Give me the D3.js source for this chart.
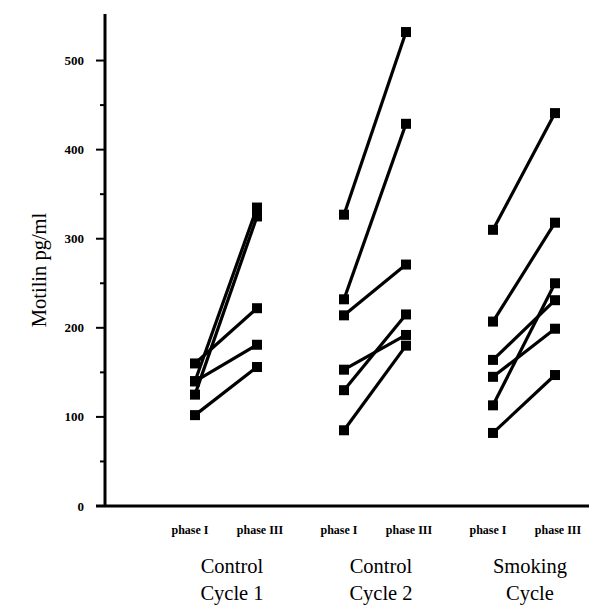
<!DOCTYPE html>
<html>
<head>
<meta charset="utf-8">
<script src="https://cdn.jsdelivr.net/npm/d3@7"></script>
<style>
  body { margin: 0; background: #fff; }
  svg { display: block; }
  text { font-family: "Liberation Serif", "DejaVu Serif", serif; fill: #000; }
</style>
</head>
<body>
<div id="chart"></div>
<script>
/* ---------------- data ---------------- */

const groups = ["Control Cycle 1", "Control Cycle 2", "Smoking Cycle"];
const groupLines = [["Control", "Cycle 1"], ["Control", "Cycle 2"], ["Smoking", "Cycle"]];
const phases = ["phase I", "phase III"];

// one entry per subject: [phase I, phase III]
const controlCycle1 = [[140, 335], [125, 325], [160, 222], [140, 181], [102, 156]];
const controlCycle2 = [[327, 532], [232, 429], [214, 271], [153, 192], [130, 215], [85, 180]];
const smokingCycle = [[310, 441], [207, 318], [164, 231], [145, 199], [113, 250], [82, 147]];

const yTicks = [0, 100, 200, 300, 400, 500];
const yMinorTicks = [50, 150, 250, 350, 450];

/* ---------------- layout ---------------- */

const width = 589, height = 607;
const axisX = 105, axisY = 506;

const svg = d3.select("#chart").append("svg")
    .attr("width", width)
    .attr("height", height);

const yScale = d3.scaleLinear()
    .domain([0, 550])
    .range([axisY, 16]);

const groupScale = d3.scaleBand()
    .domain(groups)
    .range([151.5, 598.5]);

const phaseScale = d3.scalePoint()
    .domain(phases)
    .range([-31, 31]);

const groupMid = g => groupScale(g) + groupScale.bandwidth() / 2;
const xPos = (g, p) => groupMid(g) + phaseScale(p);

/* ---------------- axes ---------------- */

svg.append("line")
    .attr("x1", axisX).attr("x2", axisX)
    .attr("y1", 14).attr("y2", axisY + 1)
    .attr("stroke", "#000").attr("stroke-width", 3);

svg.append("line")
    .attr("x1", 96).attr("x2", width)
    .attr("y1", axisY).attr("y2", axisY)
    .attr("stroke", "#000").attr("stroke-width", 3);

svg.selectAll(".major")
    .data(yTicks)
    .enter().append("line")
    .attr("x1", 96).attr("x2", axisX)
    .attr("y1", d => yScale(d)).attr("y2", d => yScale(d))
    .attr("stroke", "#000").attr("stroke-width", 2);

svg.selectAll(".minor")
    .data(yMinorTicks)
    .enter().append("line")
    .attr("x1", 100).attr("x2", axisX)
    .attr("y1", d => yScale(d)).attr("y2", d => yScale(d))
    .attr("stroke", "#000").attr("stroke-width", 2);

svg.selectAll(".ytick")
    .data(yTicks)
    .enter().append("text")
    .attr("x", 84)
    .attr("y", d => yScale(d) + 4.5)
    .attr("text-anchor", "end")
    .style("font-size", "13px")
    .style("font-weight", "bold")
    .text(d => d);

svg.append("text")
    .attr("transform", `translate(46, 270) rotate(-90)`)
    .attr("text-anchor", "middle")
    .style("font-size", "20.5px")
    .text("Motilin pg/ml");

/* ---------------- x labels ---------------- */

groups.forEach(function (g, i) {
    phases.forEach(function (p) {
        svg.append("text")
            .attr("x", xPos(g, p) + (p === "phase I" ? -5 : 3))
            .attr("y", 534)
            .attr("text-anchor", "middle")
            .style("font-size", "12px")
            .style("font-weight", "bold")
            .text(p);
    });
    groupLines[i].forEach(function (line, j) {
        svg.append("text")
            .attr("x", groupMid(g) + 6)
            .attr("y", 573 + j * 27)
            .attr("text-anchor", "middle")
            .style("font-size", "20.5px")
            .text(line);
    });
});

/* ---------------- subjects ---------------- */

const allSeries = [controlCycle1, controlCycle2, smokingCycle];
const markerSize = 10;

allSeries.forEach(function (series, i) {
    const g = groups[i];
    const layer = svg.append("g");

    layer.selectAll(".subject")
        .data(series)
        .enter().append("line")
        .attr("x1", xPos(g, phases[0]))
        .attr("x2", xPos(g, phases[1]))
        .attr("y1", d => yScale(d[0]))
        .attr("y2", d => yScale(d[1]))
        .attr("stroke", "#000")
        .attr("stroke-width", 3.2);

    phases.forEach(function (p, k) {
        layer.selectAll(".m" + k)
            .data(series)
            .enter().append("rect")
            .attr("x", xPos(g, p) - markerSize / 2)
            .attr("y", d => yScale(d[k]) - markerSize / 2)
            .attr("width", markerSize)
            .attr("height", markerSize)
            .attr("fill", "#000");
    });
});
</script>
</body>
</html>
